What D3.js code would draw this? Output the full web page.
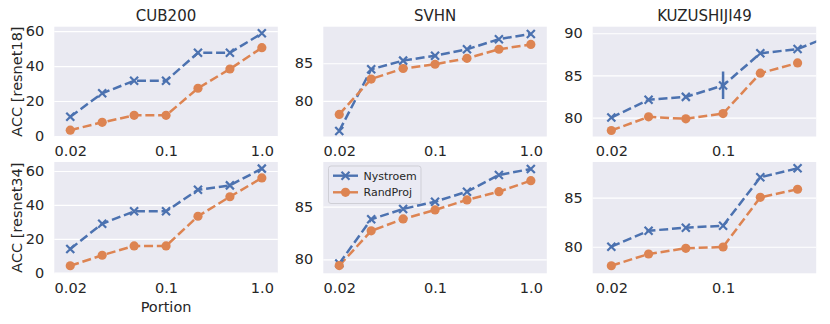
<!DOCTYPE html>
<html><head><meta charset="utf-8">
<script src="https://cdn.jsdelivr.net/npm/d3@7/dist/d3.min.js"></script>
<style>body{margin:0;background:#fff}svg{display:block}text{font-family:"DejaVu Sans",sans-serif;fill:#262626}</style>
</head><body><svg id="c" width="830" height="324"></svg>
<script>
// ---- data ----
const datasets = ["CUB200", "SVHN", "KUZUSHIJI49"];
const models = ["resnet18", "resnet34"];
const portions = ["0.02", "0.03", "0.05", "0.1", "0.2", "0.5", "1.0"];
const tickLabels = ["0.02", "0.1", "1.0"];
const tickIndex = [0, 3, 6];
const seriesNames = ["Nystroem", "RandProj"];

// resnet18
const cub18_nys = [11.0, 24.4, 31.6, 31.6, 47.6, 47.6, 58.7];
const cub18_rp  = [3.3, 7.8, 11.8, 11.8, 27.3, 38.3, 50.5];
const svhn18_nys = [76.0, 84.2, 85.35, 86.0, 86.85, 88.2, 88.9];
const svhn18_rp  = [78.2, 82.9, 84.3, 84.87, 85.66, 86.86, 87.5];
const kuz18_nys = [80.0, 82.1, 82.45, 83.8, 87.62, 88.13, 89.9];
const kuz18_rp  = [78.46, 80.08, 79.85, 80.47, 85.26, 86.48];
// resnet34
const cub34_nys = [14.0, 28.9, 36.2, 36.2, 48.9, 51.5, 61.4];
const cub34_rp  = [4.1, 10.3, 15.8, 15.8, 33.3, 44.8, 55.9];
const svhn34_nys = [79.6, 83.8, 84.78, 85.47, 86.42, 88.01, 88.58];
const svhn34_rp  = [79.4, 82.7, 83.83, 84.69, 85.64, 86.42, 87.47];
const kuz34_nys = [80.0, 81.63, 81.94, 82.14, 87.08, 88.0];
const kuz34_rp  = [78.06, 79.26, 79.84, 79.97, 85.04, 85.86];

// visible confidence intervals: [series, index, low, high]
const kuz18_err = [[0, 3, 82.2, 85.45]];
const svhn34_err = [[1, 5, 86.0, 86.8]];

// axis limits & ticks
const yLims = [[-0.3, 62.5], [75.26, 89.86], [77.75, 90.78], [-0.35, 65.3], [78.67, 89.24], [77.29, 88.64]];
const yTicks = [[0, 20, 40, 60], [80, 85], [80, 85, 90], [0, 20, 40, 60], [80, 85], [80, 85]];
const nCats = [7, 7, 6];

const panels = [
  [cub18_nys, cub18_rp, []], [svhn18_nys, svhn18_rp, []], [kuz18_nys, kuz18_rp, kuz18_err],
  [cub34_nys, cub34_rp, []], [svhn34_nys, svhn34_rp, svhn34_err], [kuz34_nys, kuz34_rp, []]
];

// ---- layout ----
const colX = [54.3, 323.3, 592.7], W = 223.5;
const rowY = [[26.7, 136.5], [162, 273.3]];
const colors = ["#4C72B0", "#DD8452"];
const FS = 14.5;
const svg = d3.select("#c");
const defs = svg.append("defs");

panels.forEach((p, i) => {
  const r = Math.floor(i / 3), c = i % 3;
  const x0 = colX[c], y0 = rowY[r][0], y1 = rowY[r][1];
  const x = d3.scaleLinear().domain([-0.5, nCats[c] - 0.5]).range([x0, x0 + W]);
  const y = d3.scaleLinear().domain(yLims[i]).range([y1, y0]);
  const g = svg.append("g");
  g.append("rect").attr("x", x0).attr("y", y0).attr("width", W).attr("height", y1 - y0).attr("fill", "#EAEAF2");
  // grid
  const ya = d3.axisLeft(y).tickValues(yTicks[i]).tickSize(-W).tickPadding(10).tickFormat(d3.format("d"));
  const yg = g.append("g").attr("transform", `translate(${x0},0)`).call(ya);
  yg.select(".domain").remove();
  yg.selectAll("line").attr("stroke", "#fff").attr("stroke-width", 1.2);
  yg.selectAll("text").attr("font-size", FS).attr("fill", "#262626").style("font-family", "DejaVu Sans");
  const xt = tickIndex.filter(t => t < nCats[c]);
  const xa = d3.axisBottom(x).tickValues(xt).tickSize(0).tickPadding(9).tickFormat(t => tickLabels[tickIndex.indexOf(t)]);
  const xg = g.append("g").attr("transform", `translate(0,${y1})`).call(xa);
  xg.select(".domain").remove();
  xg.selectAll("text").attr("font-size", FS).attr("fill", "#262626").style("font-family", "DejaVu Sans");

  const cid = "clip" + i;
  defs.append("clipPath").attr("id", cid).append("rect").attr("x", x0).attr("y", y0).attr("width", W).attr("height", y1 - y0);
  const pg = g.append("g").attr("clip-path", `url(#${cid})`);
  const line = d3.line().x((d, k) => x(k)).y(d => y(d));
  [0, 1].forEach(s => {
    pg.append("path").attr("d", line(p[s])).attr("fill", "none").attr("stroke", colors[s])
      .attr("stroke-width", 2.5).attr("stroke-dasharray", "9,3.8");
  });
  p[2].forEach(e => {
    pg.append("line").attr("x1", x(e[1])).attr("x2", x(e[1])).attr("y1", y(e[2])).attr("y2", y(e[3]))
      .attr("stroke", colors[e[0]]).attr("stroke-width", 2.5);
  });
  // markers
  p[0].forEach((v, k) => {
    const cx = x(k), cy = y(v), s = 4;
    pg.append("path").attr("d", `M${cx - s},${cy - s}L${cx + s},${cy + s}M${cx - s},${cy + s}L${cx + s},${cy - s}`)
      .attr("stroke", colors[0]).attr("stroke-width", 2.2);
  });
  p[1].forEach((v, k) => {
    pg.append("circle").attr("cx", x(k)).attr("cy", y(v)).attr("r", 4.6).attr("fill", colors[1]);
  });
  // titles / labels
  if (r === 0) g.append("text").attr("x", x0 + W / 2).attr("y", 21).attr("text-anchor", "middle").attr("font-size", 15).text(datasets[c]);
  if (c === 0) g.append("text").attr("transform", `translate(21.5,${(y0 + y1) / 2}) rotate(-90)`).attr("text-anchor", "middle")
      .attr("font-size", FS).text(`ACC [${models[r]}]`);
  if (r === 1 && c === 0) g.append("text").attr("x", x0 + W / 2).attr("y", 311.5).attr("text-anchor", "middle").attr("font-size", FS).text("Portion");

  if (i === 4) {
    const lg = g.append("g");
    lg.append("rect").attr("x", 328.5).attr("y", 166).attr("width", 92.5).attr("height", 37.5).attr("rx", 2.5)
      .attr("fill", "#EAEAF2").attr("fill-opacity", 0.8).attr("stroke", "#cfcfd6").attr("stroke-width", 1);
    seriesNames.forEach((n, s) => {
      const ly = 175.7 + s * 16.6;
      lg.append("line").attr("x1", 333).attr("x2", 358).attr("y1", ly).attr("y2", ly).attr("stroke", colors[s]).attr("stroke-width", 2.4);
      if (s === 0) {
        const cx = 345.5, sz = 4;
        lg.append("path").attr("d", `M${cx - sz},${ly - sz}L${cx + sz},${ly + sz}M${cx - sz},${ly + sz}L${cx + sz},${ly - sz}`)
          .attr("stroke", colors[0]).attr("stroke-width", 2.2);
      } else {
        lg.append("circle").attr("cx", 345.5).attr("cy", ly).attr("r", 4.6).attr("fill", colors[1]);
      }
      lg.append("text").attr("x", 363.5).attr("y", ly + 4).attr("font-size", 11).text(n);
    });
  }
});
</script></body></html>
